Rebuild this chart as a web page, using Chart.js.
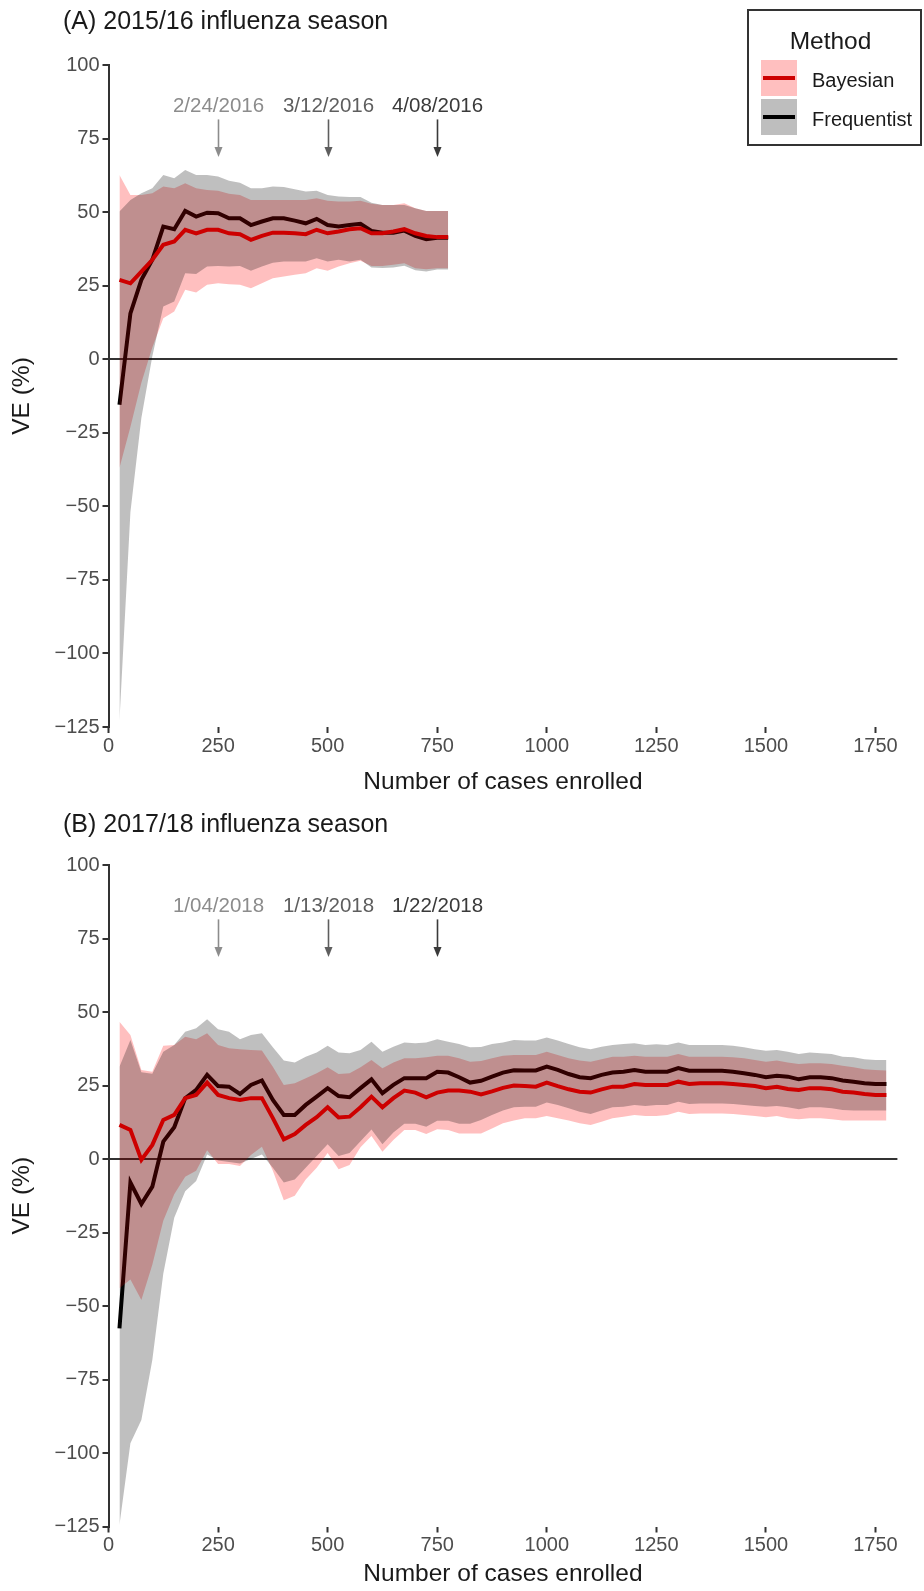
<!DOCTYPE html>
<html>
<head>
<meta charset="utf-8">
<title>Influenza VE by cases enrolled</title>
<script src="https://cdn.jsdelivr.net/npm/chart.js@4.4.0/dist/chart.umd.min.js"></script>
<style>
  body { margin: 0; background: #fff; width: 924px; height: 1591px; position: relative; overflow: hidden;
         font-family: "Liberation Sans", Arial, sans-serif; }
  canvas { display: block; position: absolute; left: 0; }
  #panelA { top: 0; }
  #panelB { top: 800px; }
  .legend { position: absolute; left: 747px; top: 9px; width: 175px; height: 137px; box-sizing: border-box;
            border: 2px solid #333; background: #fff; }
  .legend .ttl { position: absolute; left: -4px; width: 100%; top: 16px; text-align: center; font-size: 24.5px; color: #1a1a1a;
                 line-height: 28px; }
  .legend .key { position: absolute; left: 12px; width: 36px; height: 36px; }
  .legend .key i { position: absolute; left: 2px; right: 2px; top: 16px; height: 4px; }
  .legend .lab { position: absolute; left: 63px; font-size: 20px; line-height: 24px; color: #1a1a1a; }
</style>
</head>
<body>
<canvas id="panelA" width="924" height="800"></canvas>
<canvas id="panelB" width="924" height="791"></canvas>
<div class="legend">
  <div class="ttl">Method</div>
  <div class="key" style="top:49px; background:#ffbfbf;"><i style="background:#cd0000;"></i></div>
  <div class="lab" style="top:57px;">Bayesian</div>
  <div class="key" style="top:88px; background:#bebebe;"><i style="background:#000;"></i></div>
  <div class="lab" style="top:96px;">Frequentist</div>
</div>
<script>
// ---- axis ticks ----
const xTicks = [0, 250, 500, 750, 1000, 1250, 1500, 1750];
const yTicks = [100, 75, 50, 25, 0, -25, -50, -75, -100, -125];

// ---- (A) 2015/16 season ----
const casesA = [25, 50, 75, 100, 125, 150, 175, 200, 225, 250, 275, 300, 325, 350, 375, 400,
                425, 450, 475, 500, 525, 550, 575, 600, 625, 650, 675, 700, 725, 750, 775];
const bayesA   = [27.0, 25.8, 29.8, 33.8, 38.9, 40.0, 44.0, 42.8, 44.0, 44.0, 42.8, 42.5, 40.6, 41.9, 43.0, 43.0,
                  42.8, 42.5, 44.0, 42.8, 43.4, 44.2, 44.5, 42.8, 42.8, 43.4, 44.2, 42.8, 41.9, 41.5, 41.5];
const bayesLoA = [-37, -23, -8, 4, 13.9, 16.2, 23.6, 22.7, 25.3, 25.8, 25.5, 25.3, 24.1, 25.8, 27.5, 28.1,
                  28.7, 29.2, 30.9, 30.1, 31.5, 32.6, 33.5, 31.7, 31.7, 32.1, 32.6, 30.9, 30.6, 30.9, 30.9];
const bayesHiA = [62.6, 55.8, 55.8, 56.4, 58.7, 58.1, 59.8, 58.1, 57.5, 57.3, 56.2, 55.8, 54.1, 54.1, 54.1, 54.1,
                  54.1, 54.1, 54.7, 53.9, 53.6, 53.6, 53.9, 52.8, 52.4, 52.4, 53.0, 51.3, 50.4, 50.4, 50.4];
const freqA    = [-15.5, 15.6, 27.0, 33.8, 45.1, 44.2, 50.4, 48.5, 49.8, 49.6, 47.9, 47.9, 45.6, 46.8, 47.9, 47.9,
                  47.1, 46.2, 47.7, 45.6, 45.1, 45.6, 46.0, 43.6, 43.0, 43.0, 43.7, 41.9, 40.8, 41.3, 41.3];
const freqLoA  = [-123, -52, -20, 1, 17.9, 19.6, 29.2, 29.0, 31.5, 31.7, 31.5, 31.7, 30.1, 31.5, 32.8, 33.2,
                  33.2, 33.2, 34.3, 33.2, 33.8, 33.2, 33.8, 31.2, 31.0, 31.2, 31.8, 30.2, 29.8, 30.5, 30.5];
const freqHiA  = [50.2, 54.1, 56.4, 58.1, 62.6, 61.5, 64.3, 62.6, 62.6, 62.1, 60.7, 60.0, 58.1, 58.1, 58.7, 58.5,
                  57.8, 57.0, 57.3, 55.8, 55.3, 55.1, 55.1, 53.2, 52.4, 52.4, 52.4, 51.3, 50.4, 50.4, 50.4];
const datesA = ['2/24/2016', '3/12/2016', '4/08/2016'];

// ---- (B) 2017/18 season ----
const casesB = [25, 50, 75, 100, 125, 150, 175, 200, 225, 250, 275, 300, 325, 350, 375, 400,
                425, 450, 475, 500, 525, 550, 575, 600, 625, 650, 675, 700, 725, 750, 775, 800,
                825, 850, 875, 900, 925, 950, 975, 1000, 1025, 1050, 1075, 1100, 1125, 1150, 1175, 1200,
                1225, 1250, 1275, 1300, 1325, 1350, 1375, 1400, 1425, 1450, 1475, 1500, 1525, 1550, 1575, 1600,
                1625, 1650, 1675, 1700, 1725, 1750, 1775];
const bayesB   = [11.6, 9.9, -0.3, 4.8, 13.3, 15.0, 20.7, 21.8, 26.0, 21.8, 20.7, 20.1, 20.7, 20.7, 13.9, 6.7,
                  8.5, 11.6, 14.2, 17.6, 14.1, 14.4, 17.6, 21.2, 17.6, 20.7, 23.3, 22.6, 21.0, 22.6, 23.3, 23.3,
                  22.9, 22.0, 23.0, 24.2, 25.0, 24.8, 24.6, 26.0, 24.8, 23.7, 22.9, 22.6, 23.7, 24.6, 24.6, 25.5,
                  25.2, 25.2, 25.2, 26.3, 25.5, 25.8, 25.8, 25.8, 25.5, 25.2, 24.8, 24.1, 24.6, 23.8, 23.5, 24.1,
                  24.1, 23.7, 22.9, 22.6, 22.1, 21.8, 21.8];
const bayesLoB = [-44, -41, -48, -36, -21, -12, -6, -4, 3, -1.7, -1.7, -2.4, 1.4, 4.2, -4, -14,
                  -12.5, -7, -3, 2, -3.5, -2, 4, 7.8, 2.5, 6.5, 9.9, 9.9, 8.5, 10.1, 9.9, 8.7,
                  8.7, 8.7, 10.4, 12.2, 13.1, 13.9, 13.9, 14.6, 13.9, 13.1, 12.2, 11.6, 12.7, 13.9, 14.4, 15.0,
                  14.6, 14.6, 15.0, 16.1, 15.3, 15.5, 15.5, 15.5, 15.3, 15.0, 14.6, 14.2, 14.6, 13.9, 13.5, 13.9,
                  13.9, 13.5, 13.1, 13.1, 13.1, 13.1, 13.1];
const bayesHiB = [46.7, 42.2, 30.3, 29.7, 38.5, 38.8, 41.6, 40.7, 42.8, 38.8, 37.7, 37.3, 37.1, 36.9, 31.4, 25.2,
                  25.8, 27.5, 29.2, 31.2, 28.9, 29.2, 31.2, 33.7, 30.9, 32.8, 34.3, 34.3, 34.6, 35.1, 35.1, 34.3,
                  33.1, 33.3, 34.3, 35.1, 35.4, 35.4, 35.4, 36.5, 35.4, 34.3, 33.5, 33.1, 33.9, 34.8, 34.8, 35.1,
                  34.8, 34.8, 34.8, 35.7, 34.8, 34.8, 34.8, 34.8, 34.6, 34.3, 33.7, 33.1, 33.5, 32.8, 32.3, 32.6,
                  32.6, 32.3, 31.7, 31.2, 30.5, 30.3, 30.1];
const freqB    = [-57.6, -8.0, -15.3, -9.4, 5.9, 10.8, 20.7, 23.5, 28.6, 24.8, 24.6, 22.1, 25.2, 26.7, 20.1, 15.0,
                  15.0, 18.4, 21.2, 24.1, 21.4, 21.0, 24.1, 27.1, 22.4, 25.2, 27.5, 27.5, 27.5, 29.7, 29.4, 27.8,
                  26.0, 26.6, 28.0, 29.4, 30.2, 30.1, 30.1, 31.4, 30.3, 28.9, 27.8, 27.5, 28.6, 29.4, 29.7, 30.3,
                  29.7, 29.7, 29.7, 30.9, 30.0, 30.0, 30.0, 30.0, 29.7, 29.2, 28.6, 27.8, 28.3, 28.0, 27.1, 27.8,
                  27.8, 27.5, 26.7, 26.3, 25.8, 25.5, 25.5];
const freqLoB  = [-124.5, -96.7, -88.8, -68.4, -39, -20, -11, -7.5, 1.5, -0.5, -1, -1.5, 0, 1.5, -3, -8,
                  -7, -3, 1, 5, 1, 2, 6, 10, 5, 9, 12, 12, 11, 13, 13, 12,
                  12, 13.3, 15.0, 16.5, 17.6, 17.8, 17.8, 19.2, 18.4, 17.3, 16.1, 15.3, 16.5, 17.6, 17.8, 18.4,
                  18.0, 18.4, 18.4, 19.5, 18.7, 18.9, 18.9, 18.9, 18.7, 18.4, 18.0, 17.8, 18.0, 17.6, 16.9, 17.6,
                  17.6, 17.3, 16.7, 16.5, 16.5, 16.5, 16.5];
const freqHiB  = [31.4, 40.5, 29.5, 29.0, 36.5, 38.8, 43.3, 44.5, 47.5, 44.1, 43.3, 40.7, 42.2, 42.8, 38.0, 33.5,
                  32.8, 34.8, 36.2, 38.5, 36.2, 36.0, 37.1, 39.9, 36.5, 38.2, 39.6, 39.4, 39.6, 40.7, 39.9, 39.1,
                  38.0, 38.1, 39.1, 39.6, 40.5, 40.3, 40.3, 41.3, 40.3, 39.1, 38.0, 37.3, 38.2, 38.8, 39.1, 39.4,
                  38.8, 39.0, 38.8, 39.6, 38.8, 38.8, 38.8, 38.8, 38.5, 38.0, 37.3, 36.8, 37.1, 36.5, 35.7, 36.2,
                  36.0, 35.7, 34.8, 34.6, 33.9, 33.7, 33.7];
const datesB = ['1/04/2018', '1/13/2018', '1/22/2018'];

// ---- date annotations (same for both panels) ----
const markCases = [250, 500, 750];
const markColors = ['#8c8c8c', '#5e5e5e', '#3a3a3a'];
const markLabelVE = 86;
const markArrowFrom = 81.5;
const markArrowTo = 68.7;

const FONT = '"Liberation Sans", Arial, sans-serif';
Chart.defaults.font.family = FONT;

// Pair x values with y values
function pts(xs, ys) {
    return xs.map((x, i) => ({ x: x, y: ys[i] }));
}

// Draw panel title and the date arrows
const decorPlugin = {
    id: 'decor',
    afterDraw: function(chart, args, opts) {
        const ctx = chart.ctx;
        const x = chart.scales.x;
        const y = chart.scales.y;
        ctx.save();
        ctx.textBaseline = 'middle';
        ctx.textAlign = 'left';
        ctx.fillStyle = '#1a1a1a';
        ctx.font = '25px ' + FONT;
        ctx.fillText(opts.title, 63, opts.titleY);

        ctx.font = '20.5px ' + FONT;
        ctx.textAlign = 'center';
        opts.dates.forEach((d, i) => {
            const px = Math.round(x.getPixelForValue(markCases[i])) + 0.5;
            const color = markColors[i];
            ctx.fillStyle = color;
            ctx.strokeStyle = color;
            ctx.fillText(d, px, y.getPixelForValue(markLabelVE));
            const y0 = y.getPixelForValue(markArrowFrom);
            const y1 = y.getPixelForValue(markArrowTo);
            ctx.lineWidth = 1.6;
            ctx.beginPath();
            ctx.moveTo(px, y0);
            ctx.lineTo(px, y1 - 4);
            ctx.stroke();
            ctx.beginPath();
            ctx.moveTo(px, y1);
            ctx.lineTo(px - 4, y1 - 10);
            ctx.lineTo(px + 4, y1 - 10);
            ctx.closePath();
            ctx.fill();
        });
        ctx.restore();
    }
};

function createPanel(canvasId, opts) {
    const lineBase = { pointRadius: 0, pointHoverRadius: 0, tension: 0, spanGaps: true };
    const config = {
        type: 'line',
        data: {
            datasets: [
                Object.assign({ label: 'Frequentist', data: pts(opts.cases, opts.freq), borderColor: '#000',
                                borderWidth: 4, fill: false, order: 6 }, lineBase),
                Object.assign({ label: 'Bayesian lower', data: pts(opts.cases, opts.bayesLo), borderWidth: 0,
                                borderColor: 'transparent', fill: false, order: 5 }, lineBase),
                Object.assign({ label: 'Bayesian upper', data: pts(opts.cases, opts.bayesHi), borderWidth: 0,
                                borderColor: 'transparent', backgroundColor: 'rgba(255, 0, 0, 0.25)',
                                fill: '-1', order: 4 }, lineBase),
                Object.assign({ label: 'Frequentist lower', data: pts(opts.cases, opts.freqLo), borderWidth: 0,
                                borderColor: 'transparent', fill: false, order: 3 }, lineBase),
                Object.assign({ label: 'Frequentist upper', data: pts(opts.cases, opts.freqHi), borderWidth: 0,
                                borderColor: 'transparent', backgroundColor: 'rgba(0, 0, 0, 0.25)',
                                fill: '-1', order: 2 }, lineBase),
                Object.assign({ label: 'Bayesian', data: pts(opts.cases, opts.bayes), borderColor: '#cd0000',
                                borderWidth: 4, fill: false, order: 1 }, lineBase)
            ]
        },
        options: {
            responsive: false,
            animation: false,
            devicePixelRatio: 1,
            layout: { padding: { top: 65, right: 26.6, left: 0, bottom: 0 } },
            plugins: {
                legend: { display: false },
                tooltip: { enabled: false },
                decor: { title: opts.title, titleY: opts.titleY, dates: opts.dates }
            },
            scales: {
                x: {
                    type: 'linear',
                    min: 0,
                    max: 1800,
                    afterBuildTicks: scale => { scale.ticks = xTicks.map(v => ({ value: v })); },
                    afterFit: scale => { scale.height = opts.xHeight; },
                    ticks: { color: '#4d4d4d', font: { size: 20 }, padding: 1, autoSkip: false, maxRotation: 0,
                             callback: v => String(v) },
                    grid: { drawOnChartArea: false, drawTicks: true, tickLength: 6, tickColor: '#333', tickWidth: 2 },
                    border: { display: false },
                    title: { display: true, text: 'Number of cases enrolled', color: '#1a1a1a',
                             font: { size: 24.5, lineHeight: 1.2 }, padding: { top: 0, bottom: opts.xTitlePad } }
                },
                y: {
                    min: -125,
                    max: 100,
                    afterBuildTicks: scale => { scale.ticks = yTicks.map(v => ({ value: v })); },
                    afterFit: scale => { scale.width = 108.5; },
                    ticks: { color: '#4d4d4d', font: { size: 20 }, padding: 3,
                             callback: v => String(v).replace('-', '\u2212') },
                    grid: {
                        drawOnChartArea: true,
                        tickLength: 6,
                        tickColor: '#333',
                        tickWidth: 2,
                        color: c => (c.tick && c.tick.value === 0) ? '#333' : 'rgba(0,0,0,0)',
                        lineWidth: 2
                    },
                    border: { display: true, color: '#333', width: 2 },
                    title: { display: true, text: 'VE (%)', color: '#1a1a1a',
                             font: { size: 24.5, lineHeight: 1.2 }, padding: { top: 7.6, bottom: 0 } }
                }
            }
        },
        plugins: [decorPlugin]
    };
    return new Chart(document.getElementById(canvasId).getContext('2d'), config);
}

createPanel('panelA', {
    title: '(A) 2015/16 influenza season', titleY: 22.5, dates: datesA,
    cases: casesA, bayes: bayesA, bayesLo: bayesLoA, bayesHi: bayesHiA,
    freq: freqA, freqLo: freqLoA, freqHi: freqHiA,
    xHeight: 73, xTitlePad: 2.6
});

createPanel('panelB', {
    title: '(B) 2017/18 influenza season', titleY: 25, dates: datesB,
    cases: casesB, bayes: bayesB, bayesLo: bayesLoB, bayesHi: bayesHiB,
    freq: freqB, freqLo: freqLoB, freqHi: freqHiB,
    xHeight: 64.5, xTitlePad: 1.6
});
</script>
</body>
</html>
